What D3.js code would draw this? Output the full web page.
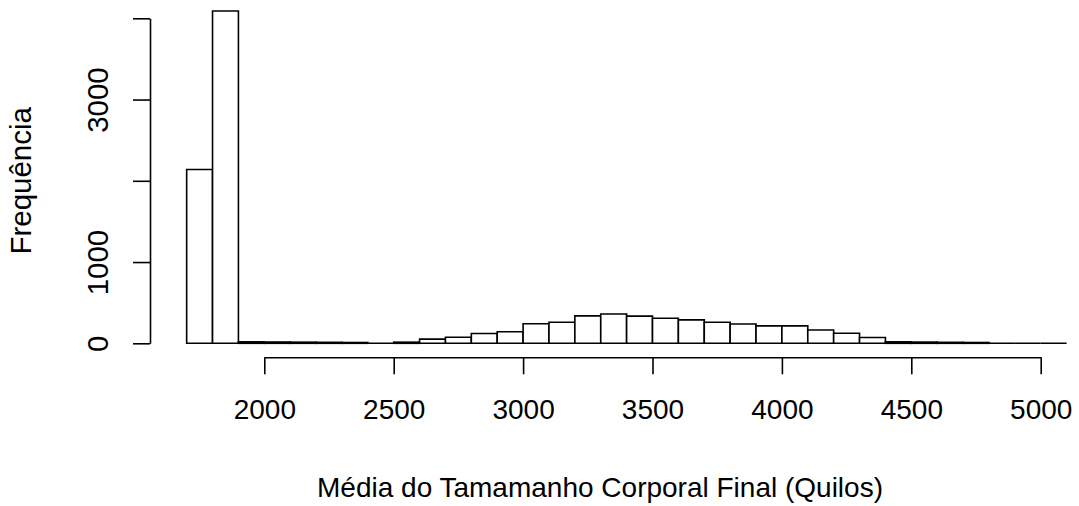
<!DOCTYPE html>
<html>
<head>
<meta charset="utf-8">
<script src="https://cdn.jsdelivr.net/npm/d3@7"></script>
<style>
  html, body { margin: 0; padding: 0; background: #fff; }
  svg { display: block; }
  text { font-family: Arial, "Liberation Sans", sans-serif; fill: #000; }
</style>
</head>
<body>
<svg id="chart" width="1079" height="506"></svg>
<script>
// Histogram bins: lower edges (kg), each bin 100 kg wide
const binStarts = [1700, 1800, 1900, 2000, 2100, 2200, 2300, 2400, 2500, 2600,
                   2700, 2800, 2900, 3000, 3100, 3200, 3300, 3400, 3500, 3600,
                   3700, 3800, 3900, 4000, 4100, 4200, 4300, 4400, 4500, 4600,
                   4700, 4800, 4900, 5000];
const binWidth = 100;
// Frequency in each bin
const counts = [2140, 4090, 18, 16, 14, 12, 10, 0, 14, 52,
                74, 120, 143, 240, 259, 337, 360, 335, 309, 288,
                259, 238, 214, 214, 164, 123, 72, 18, 15, 12,
                10, 0, 0, 0];
const xTicks = [2000, 2500, 3000, 3500, 4000, 4500, 5000];
const yTicks = [0, 1000, 2000, 3000, 4000];
const yTickLabels = ["0", "1000", "", "3000", ""];
const xTitle = "Média do Tamamanho Corporal Final (Quilos)";
const yTitle = "Frequência";

const svg = d3.select("#chart");
const FS = 28;      // horizontal text
const FS_V = 29.5;  // rotated text

const x = d3.scaleLinear().domain([2000, 5000]).range([264.3, 1040.7]);
const y = d3.scaleLinear().domain([0, 4000]).range([343.3, 18.3]);

// bars drawn as closed outlines so that empty bins still show their bottom edge
svg.append("g")
  .selectAll("path")
  .data(binStarts.map((b, i) => ({ x0: b, x1: b + binWidth, n: counts[i] })))
  .join("path")
  .attr("d", d => {
    const p = d3.path();
    p.moveTo(x(d.x0), y(0));
    p.lineTo(x(d.x0), y(d.n));
    p.lineTo(x(d.x1), y(d.n));
    p.lineTo(x(d.x1), y(0));
    p.closePath();
    return p.toString();
  })
  .attr("fill", "#fff")
  .attr("stroke", "#000")
  .attr("stroke-width", 1.6)
  .attr("stroke-linejoin", "miter");

// x axis
const xAxis = svg.append("g")
  .attr("transform", "translate(0,357.3)")
  .call(d3.axisBottom(x).tickValues(xTicks).tickSize(17).tickSizeOuter(0).tickFormat(d3.format("d")));
xAxis.selectAll("path, line").attr("stroke", "#000").attr("stroke-width", 1.6);
xAxis.selectAll("text")
  .attr("font-size", FS)
  .attr("font-family", "Arial, 'Liberation Sans', sans-serif")
  .attr("y", 0).attr("dy", null)
  .attr("transform", "translate(0,62)");

// y axis
const yAxis = svg.append("g")
  .attr("transform", "translate(150,0)")
  .call(d3.axisLeft(y).tickValues(yTicks).tickSize(17).tickSizeOuter(0)
    .tickFormat((d, i) => yTickLabels[i]));
yAxis.selectAll("path, line").attr("stroke", "#000").attr("stroke-width", 1.6);
yAxis.selectAll("text")
  .attr("font-size", FS_V)
  .attr("font-family", "Arial, 'Liberation Sans', sans-serif")
  .attr("x", 0).attr("dy", null)
  .attr("text-anchor", "middle")
  .attr("transform", "translate(-42.5,0) rotate(-90)");

// axis titles
svg.append("text")
  .attr("x", 600).attr("y", 497)
  .attr("text-anchor", "middle")
  .attr("font-size", FS)
  .text(xTitle);

svg.append("text")
  .attr("transform", "translate(31,180.8) rotate(-90)")
  .attr("text-anchor", "middle")
  .attr("font-size", FS_V)
  .text(yTitle);
</script>
</body>
</html>
